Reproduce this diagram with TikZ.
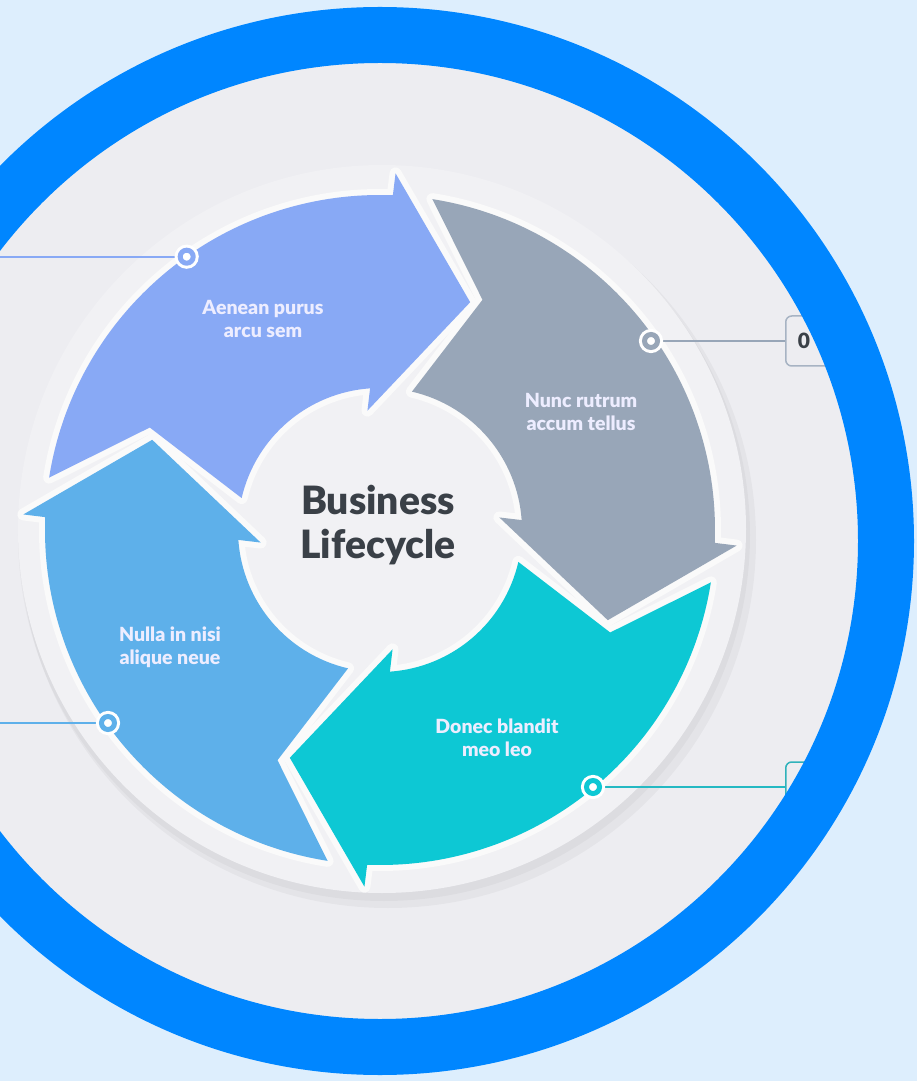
\documentclass[tikz,border=0pt]{standalone}
\usepackage{fontspec}
\setmainfont{Lato}
\newfontfamily\heavyfont{Lato Black}
\usepackage{tikz}

\definecolor{skyback}{HTML}{DDEEFD}
\definecolor{ringblue}{HTML}{0086FF}
\definecolor{innergray}{HTML}{EDEDF1}
\definecolor{plategray}{HTML}{F1F1F4}
\definecolor{periwinkle}{HTML}{88A9F5}
\definecolor{slategray}{HTML}{98A6B8}
\definecolor{tealcyan}{HTML}{0DC8D4}
\definecolor{lightblue}{HTML}{5EB0EA}
\definecolor{darktext}{HTML}{3A4047}

\begin{document}
\begin{tikzpicture}[x=1pt, y=1pt,
  arrowshape/.style={preaction={draw=white!96!gray, line width=12pt, line join=round}},
  label/.style={white!93!blue, font=\heavyfont\fontsize{19.5pt}{23pt}\selectfont, align=center},
  marker/.style={circle, fill=white, draw=white, line width=3pt, double=#1, double distance=5pt, minimum size=13pt, inner sep=0pt},
  lead/.style={draw=#1, line width=1.8pt},
  tagbox/.style={draw=#1, line width=1.5pt, rounded corners=6pt, fill=innergray, anchor=west, minimum height=50pt, text width=31pt, inner xsep=12pt, align=left, text=darktext, font=\heavyfont\fontsize{21pt}{24pt}\selectfont}]
\useasboundingbox (-380,-551) rectangle (537,530);
\clip (-380,-551) rectangle (537,530);
\fill[skyback] (-380,-551) rectangle (537,530);
\fill[innergray] (0,-11) circle (480);

\fill[black, opacity=0.035] (8,-10) circle (368);
\fill[black, opacity=0.03] (4,-5) circle (366);
\fill[plategray] (2,1) circle (364);

\fill[periwinkle, arrowshape] (171:335) arc[start angle=171, end angle=87.8, radius=335] -- (87.5:357) -- (68.4:245) -- (96:120) -- (94:142) arc[start angle=94, end angle=167, radius=142] -- (156:252) -- cycle;
\fill[slategray, arrowshape] (81:335) arc[start angle=81, end angle=-2.2, radius=335] -- (-2.5:357) -- (-21.6:245) -- (6:120) -- (4:142) arc[start angle=4, end angle=77, radius=142] -- (66:252) -- cycle;
\fill[tealcyan, arrowshape] (-9:335) arc[start angle=-9, end angle=-92.2, radius=335] -- (-92.5:357) -- (-111.6:245) -- (-84:120) -- (-86:142) arc[start angle=-86, end angle=-13, radius=142] -- (-24:252) -- cycle;
\fill[lightblue, arrowshape] (261:335) arc[start angle=261, end angle=177.8, radius=335] -- (177.5:357) -- (158.4:245) -- (186:120) -- (184:142) arc[start angle=184, end angle=257, radius=142] -- (246:252) -- cycle;

\node[darktext, font=\heavyfont\fontsize{39pt}{44pt}\selectfont, align=center] (title) at (-2,5) {Business\\Lifecycle};
\node[label] (aenean) at (-117,211) {Aenean purus\\arcu sem};
\node[label] (nunc) at (201,118) {Nunc rutrum\\accum tellus};
\node[label] (donec) at (117,-208) {Donec blandit\\meo leo};
\node[label] (nulla) at (-210,-117) {Nulla in nisi\\alique neue};

\coordinate (m1) at (-193.3,273.3);
\coordinate (m2) at (271,189);
\coordinate (m3) at (-272,-193);
\coordinate (m4) at (213,-257);
\coordinate (e1) at (-380,273.3);
\coordinate (e3) at (-380,-193);
\node[tagbox=slategray!85] (b2) at (405,189) {0};
\node[tagbox=tealcyan!70!gray] (b4) at (405,-257) {};
\draw[lead=periwinkle] (m1) -- (e1);
\draw[lead=slategray] (m2) -- (b2.west);
\draw[lead=lightblue] (m3) -- (e3);
\draw[lead=tealcyan!80!gray] (m4) -- (b4.west);
\node[marker=periwinkle] (k1) at (m1) {};
\node[marker=slategray] (k2) at (m2) {};
\node[marker=lightblue] (k3) at (m3) {};
\node[marker=tealcyan] (k4) at (m4) {};

\draw[ringblue, line width=56pt] (0,-11) circle (506);
\end{tikzpicture}
\end{document}
